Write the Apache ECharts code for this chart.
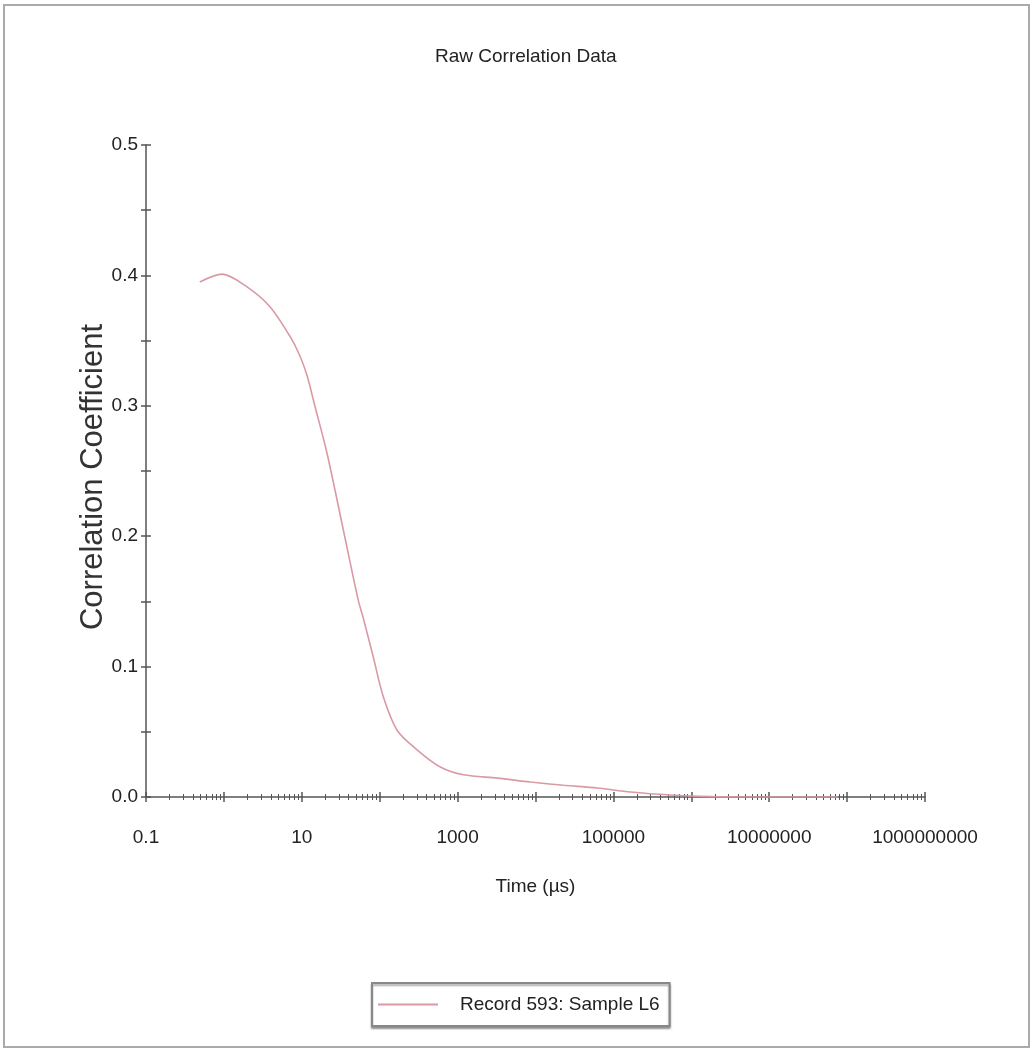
<!DOCTYPE html>
<html>
<head>
<meta charset="utf-8">
<script src="https://cdn.jsdelivr.net/npm/echarts@6/dist/echarts.min.js"></script>
<style>html,body{margin:0;padding:0;background:#fff}#c{width:1032px;height:1051px}</style>
</head>
<body>
<div id="c"></div>
<script>
// Data
var timeUs = [0.49, 0.95, 2.0, 3.9, 7.1, 9.5, 11.7, 14.7, 21, 33, 53, 61, 83, 111, 168, 304, 600, 1190, 3250, 8600, 22900, 62600, 166000, 543000, 1780000, 5800000, 26000000, 76000000];
var corrValues = [0.395, 0.401, 0.391, 0.376, 0.353, 0.338, 0.323, 0.300, 0.264, 0.209, 0.151, 0.138, 0.107, 0.077, 0.051, 0.036, 0.023, 0.017, 0.0145, 0.0115, 0.009, 0.0069, 0.0038, 0.0015, 0.0003, 0.0, 0.0, 0.0];
var xTickLabels = [0.1, 10, 1000, 100000, 10000000, 1000000000];
var yTickLabels = [0.0, 0.1, 0.2, 0.3, 0.4, 0.5];
var seriesName = 'Record 593: Sample L6';

var decades = [], minors = [];
for (var e = -1; e <= 9; e++) {
  var d = Math.pow(10, e);
  decades.push(d);
  if (e < 9) for (var m = 2; m <= 9; m++) minors.push(m * d);
}
var points = timeUs.map(function (t, i) { return [t, corrValues[i]]; });

var FN = '"Liberation Sans",Arial,sans-serif';
var AX = '#555';
var FS = 19;

function xAx(opts) {
  var base = {
    type: 'log', logBase: 10, min: 0.1, max: 1e9, gridIndex: 0, position: 'bottom',
    axisLine: { show: false, onZero: false },
    axisLabel: { show: false },
    splitLine: { show: false },
    minorTick: { show: false },
    axisTick: { show: false }
  };
  for (var k in opts) base[k] = opts[k];
  return base;
}

var chart = echarts.init(document.getElementById('c'));
chart.setOption({
  animation: false,
  backgroundColor: '#fff',
  title: {
    text: 'Raw Correlation Data',
    left: 430, top: 42,
    textStyle: { fontFamily: FN, fontSize: FS, fontWeight: 'normal', color: '#222' }
  },
  grid: { left: 146, right: 107, top: 145, bottom: 254, containLabel: false },
  legend: {
    data: [{ name: seriesName, icon: 'rect' }],
    left: 372, top: 983,
    itemWidth: 60, itemHeight: 2,
    padding: [12, 10, 12, 6],
    borderColor: '#888', borderWidth: 2,
    shadowColor: 'rgba(0,0,0,0.35)', shadowBlur: 2, shadowOffsetY: 2,
    backgroundColor: '#fff',
    textStyle: { fontFamily: FN, fontSize: FS, color: '#222', padding: [0, 0, 0, 17] }
  },
  xAxis: [
    xAx({
      name: 'Time (\u00b5s)', nameLocation: 'middle', nameGap: 80, nameMoveOverlap: false,
      nameTextStyle: { fontFamily: FN, fontSize: FS, color: '#222' },
      axisLine: { show: true, onZero: false, lineStyle: { color: AX, width: 1.5 } },
      axisTick: { show: true, inside: false, length: 5, customValues: decades, lineStyle: { color: AX, width: 1.5 } },
      axisLabel: {
        show: true, customValues: xTickLabels, margin: 31,
        fontFamily: FN, fontSize: FS, color: '#222',
        formatter: function (v) { return v < 1 ? String(Math.round(v * 10) / 10) : String(Math.round(v)); }
      }
    }),
    xAx({ axisTick: { show: true, inside: true, length: 5, customValues: decades, lineStyle: { color: AX, width: 1.5 } } }),
    xAx({ axisTick: { show: true, inside: false, length: 3, customValues: minors, lineStyle: { color: AX, width: 1 } } }),
    xAx({ axisTick: { show: true, inside: true, length: 3, customValues: minors, lineStyle: { color: AX, width: 1 } } })
  ],
  yAxis: [
    {
      type: 'value', min: 0, max: 0.5, interval: 0.05,
      name: 'Correlation Coefficient', nameLocation: 'middle', nameGap: 37, nameMoveOverlap: false,
      nameTextStyle: { fontFamily: FN, fontSize: 31, color: '#333', padding: [0, 12, 0, 0] },
      axisLine: { show: true, lineStyle: { color: AX, width: 1.5 } },
      axisTick: { show: true, inside: false, length: 5, lineStyle: { color: AX, width: 1.5 } },
      axisLabel: {
        customValues: yTickLabels, margin: 8,
        fontFamily: FN, fontSize: FS, color: '#222',
        formatter: function (v) { return v.toFixed(1); }
      },
      splitLine: { show: false }
    },
    {
      type: 'value', min: 0, max: 0.5, interval: 0.05, position: 'left',
      axisLine: { show: false },
      axisTick: { show: true, inside: true, length: 5, lineStyle: { color: AX, width: 1.5 } },
      axisLabel: { show: false },
      splitLine: { show: false }
    }
  ],
  series: [{
    name: seriesName,
    type: 'line',
    xAxisIndex: 0, yAxisIndex: 0,
    data: points,
    smooth: 0.3,
    symbol: 'none',
    lineStyle: { color: '#d99aa5', width: 1.6 },
    itemStyle: { color: '#d99aa5' }
  }],
  graphic: [{
    type: 'rect', silent: true, z: -1,
    shape: { x: 4, y: 5, width: 1025, height: 1042 },
    style: { fill: 'none', stroke: '#aaa', lineWidth: 2 }
  }]
});
</script>
</body>
</html>
